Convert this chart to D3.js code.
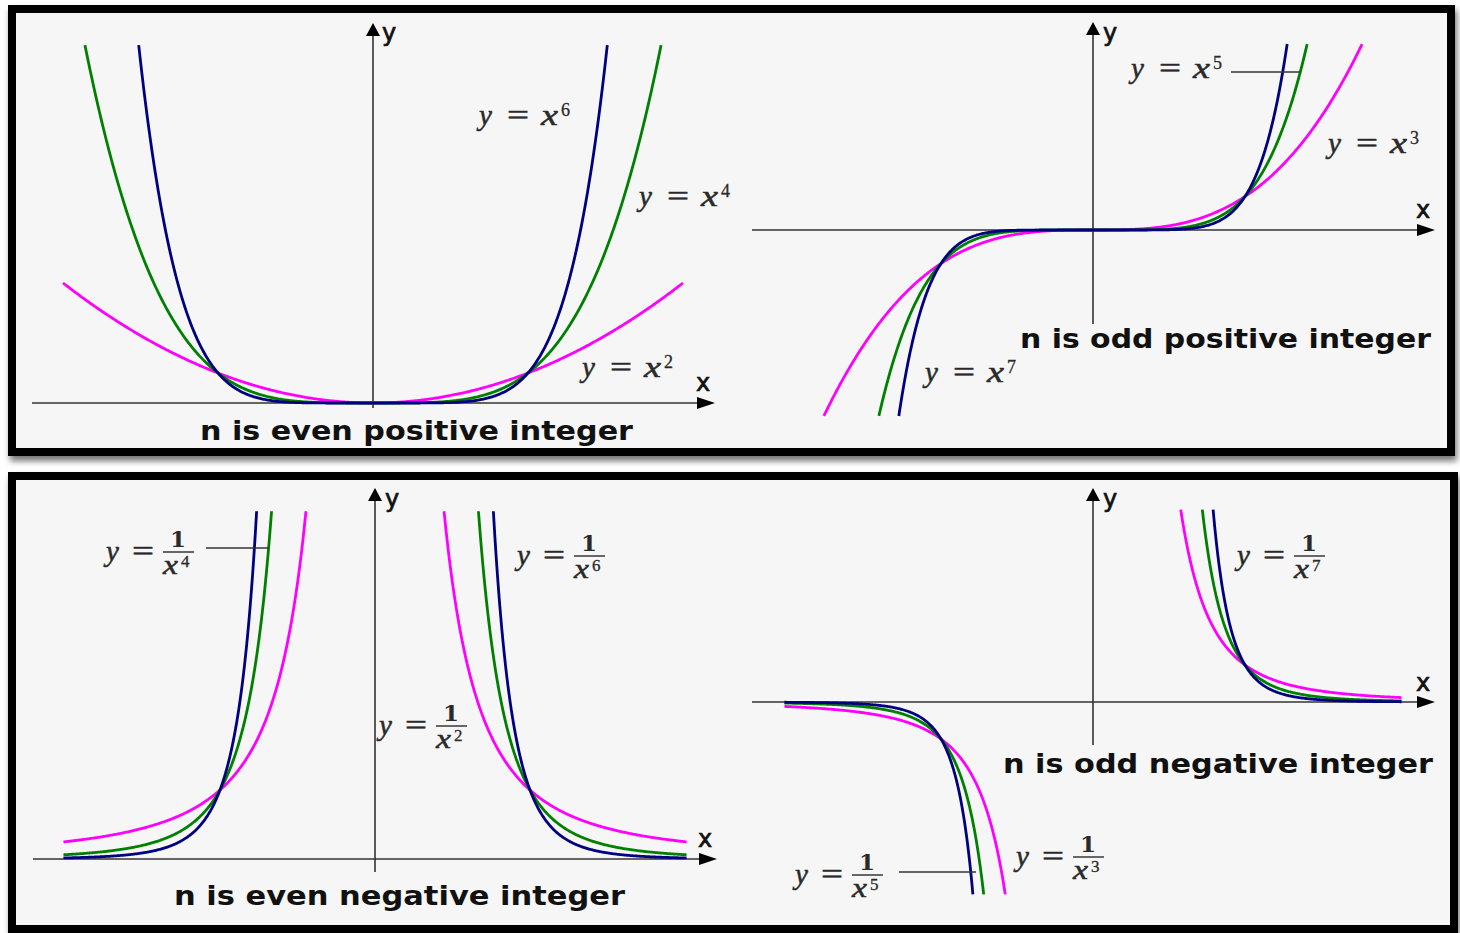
<!DOCTYPE html>
<html>
<head>
<meta charset="utf-8">
<script src="https://cdn.jsdelivr.net/npm/d3@7"></script>
<style>
  body { margin: 0; background: #fff; }
</style>
</head>
<body>
<script>
// exponents drawn in each panel (magenta, green, navy)
var evenPositive = [2, 4, 6];
var oddPositive = [3, 5, 7];
var evenNegative = [-2, -4, -6];
var oddNegative = [-3, -5, -7];
var curveColors = ["#ff00ff", "#008000", "#000080"];
var titles = ["n is even positive integer", "n is odd positive integer",
              "n is even negative integer", "n is odd negative integer"];
// visible window of the curves, in function units
var xLimits = [2, 3, 2.01, 2.03];
var yLimits = [[0, 11.93], [-5.55, 5.55], [0, 5.04], [-5.2, 5.2]];

// layout: origin, units (px), axis extents, label spots
var layout = [
  { ox: 373, oy: 403, ux: 155, uy: 30, xa: [32, 715], ya: [408, 23], ylab: [382, 41], xlab: [696, 391],
    title: [200, 440, 433],
    labels: [[480, 125, 6], [640, 206, 4], [583, 377, 2]], leaders: [] },
  { ox: 1093, oy: 230, ux: 152, uy: 33.5, xa: [752, 1435], ya: [324, 22], ylab: [1103, 41], xlab: [1416, 218],
    title: [1020, 348, 411],
    labels: [[1132, 78, 5], [1329, 153, 3], [926, 382, 7]], leaders: [[1231, 1300, 72]] },
  { ox: 375, oy: 859, ux: 155, uy: 69, xa: [33, 717], ya: [872, 488], ylab: [385, 507], xlab: [698, 847],
    title: [174, 905, 451],
    labels: [[107, 552, -4], [518, 556, -6], [380, 726, -2]], leaders: [[206, 269, 548]] },
  { ox: 1093, oy: 702, ux: 152, uy: 37, xa: [752, 1435], ya: [745, 488], ylab: [1103, 507], xlab: [1416, 691],
    title: [1003, 773, 430],
    labels: [[1238, 556, -7], [1017, 857, -3], [796, 875, -5]], leaders: [[899, 976, 872]] }
];
var panelExps = [evenPositive, oddPositive, evenNegative, oddNegative];

var svg = d3.select("body").append("svg")
    .attr("width", 1460)
    .attr("height", 933);

var defs = svg.append("defs");
defs.append("filter").attr("id", "shadow")
    .attr("x", "-5%").attr("y", "-5%").attr("width", "110%").attr("height", "115%")
  .append("feDropShadow")
    .attr("dx", 2).attr("dy", 5).attr("stdDeviation", 3)
    .attr("flood-color", "#000").attr("flood-opacity", 0.55);

// the two framed boxes
svg.append("rect")
    .attr("x", 12).attr("y", 9).attr("width", 1439).attr("height", 443)
    .attr("fill", "#f6f6f6").attr("stroke", "#000").attr("stroke-width", 8)
    .attr("filter", "url(#shadow)");
svg.append("rect")
    .attr("x", 12).attr("y", 476).attr("width", 1442).attr("height", 453)
    .attr("fill", "#f6f6f6").attr("stroke", "#000").attr("stroke-width", 8)
    .attr("filter", "url(#shadow)");

// one side of a curve y = x^n, clipped to the window
function branch(n, s, xMax, lo, hi) {
    var ySign = (n % 2 === 0) ? 1 : s;
    var lim = ySign > 0 ? hi : -lo;
    var t = Math.pow(lim, 1 / n);
    var a = n > 0 ? 0 : t;
    var b = n > 0 ? Math.min(xMax, t) : xMax;
    return d3.range(0, 241).map(function(i) {
        var xv = s * (a + (b - a) * i / 240);
        return [xv, Math.pow(xv, n)];
    });
}

var mathFont = "'Liberation Serif', 'DejaVu Serif', serif";
var ink = "#2a2a2a";

function letter(t, x, y, txt, size, italic) {
    return t.append("text").attr("x", x).attr("y", y)
        .attr("font-size", size).attr("font-style", italic ? "italic" : "normal")
        .attr("stroke", ink).attr("stroke-width", 0.5)
        .text(txt);
}

function powerLabel(g, x0, y0, n) {
    var t = g.append("g").attr("transform", "translate(" + x0 + "," + y0 + ")")
        .attr("fill", ink).attr("font-family", mathFont);
    letter(t, -1, 0, "y", 29, true);
    letter(t, 27, 0, "=", 30, false).attr("textLength", 22).attr("lengthAdjust", "spacingAndGlyphs");
    letter(t, 61, 0, "x", 29, true).attr("textLength", 17).attr("lengthAdjust", "spacingAndGlyphs");
    letter(t, 81, -9, n, 18, false).attr("stroke-width", 0.3);
}

function fractionLabel(g, x0, by, n) {
    var t = g.append("g").attr("transform", "translate(" + x0 + "," + by + ")")
        .attr("fill", ink).attr("font-family", mathFont);
    letter(t, -1, 9, "y", 29, true);
    letter(t, 25, 9, "=", 30, false).attr("textLength", 22).attr("lengthAdjust", "spacingAndGlyphs");
    t.append("line").attr("x1", 56).attr("x2", 87).attr("y1", 0).attr("y2", 0)
        .attr("stroke", ink).attr("stroke-width", 1.4);
    t.append("text").attr("x", 71).attr("y", -5).attr("text-anchor", "middle")
        .attr("font-size", 23).attr("font-weight", "bold").attr("font-family", "'DejaVu Serif', serif").text("1");
    letter(t, 56, 22, "x", 27, true).attr("textLength", 15).attr("lengthAdjust", "spacingAndGlyphs");
    letter(t, 74, 15, Math.abs(n), 17, false).attr("stroke-width", 0.3);
}

layout.forEach(function(L, p) {
    var g = svg.append("g");
    var exps = panelExps[p];
    var x = d3.scaleLinear().domain([-1, 1]).range([L.ox - L.ux, L.ox + L.ux]);
    var y = d3.scaleLinear().domain([-1, 1]).range([L.oy + L.uy, L.oy - L.uy]);

    // axes
    g.append("line").attr("x1", L.xa[0]).attr("x2", L.xa[1] - 12).attr("y1", L.oy).attr("y2", L.oy)
        .attr("stroke", "#333").attr("stroke-width", 1.6);
    g.append("path")
        .attr("d", "M" + L.xa[1] + "," + L.oy + "L" + (L.xa[1] - 18) + "," + (L.oy - 6) + "L" + (L.xa[1] - 18) + "," + (L.oy + 6) + "Z")
        .attr("fill", "#000");
    g.append("line").attr("x1", L.ox).attr("x2", L.ox).attr("y1", L.ya[0]).attr("y2", L.ya[1] + 10)
        .attr("stroke", "#333").attr("stroke-width", 1.6);
    g.append("path")
        .attr("d", "M" + L.ox + "," + L.ya[1] + "L" + (L.ox - 7) + "," + (L.ya[1] + 13) + "L" + (L.ox + 7) + "," + (L.ya[1] + 13) + "Z")
        .attr("fill", "#000");
    g.append("text").attr("x", L.ylab[0]).attr("y", L.ylab[1])
        .attr("font-family", "'DejaVu Sans', Verdana, sans-serif").attr("font-size", 24)
        .attr("fill", "#111").attr("stroke", "#111").attr("stroke-width", 0.7).text("y");
    g.append("text").attr("x", L.xlab[0]).attr("y", L.xlab[1])
        .attr("font-family", "'DejaVu Sans', Verdana, sans-serif").attr("font-size", 24)
        .attr("fill", "#111").attr("stroke", "#111").attr("stroke-width", 0.7).text("x");

    // curves
    var line = d3.line().x(function(d) { return x(d[0]); }).y(function(d) { return y(d[1]); });
    var lo = yLimits[p][0], hi = yLimits[p][1];
    exps.forEach(function(n, i) {
        var left = branch(n, -1, xLimits[p], lo, hi);
        var right = branch(n, 1, xLimits[p], lo, hi);
        var parts = n > 0 ? [left.slice().reverse().concat(right)] : [left, right];
        parts.forEach(function(pts) {
            g.append("path").attr("d", line(pts))
                .attr("fill", "none").attr("stroke", curveColors[i])
                .attr("stroke-width", 2.8).attr("stroke-linejoin", "round");
        });
    });

    // leader lines and labels
    L.leaders.forEach(function(d) {
        g.append("line").attr("x1", d[0]).attr("x2", d[1]).attr("y1", d[2]).attr("y2", d[2])
            .attr("stroke", "#333").attr("stroke-width", 1.4);
    });
    L.labels.forEach(function(d) {
        if (d[2] > 0) powerLabel(g, d[0], d[1], d[2]);
        else fractionLabel(g, d[0], d[1], d[2]);
    });

    g.append("text").attr("x", L.title[0]).attr("y", L.title[1])
        .attr("textLength", L.title[2]).attr("lengthAdjust", "spacingAndGlyphs")
        .attr("font-family", "'DejaVu Sans', Verdana, sans-serif").attr("font-weight", "bold")
        .attr("font-size", 26).attr("fill", "#111").text(titles[p]);
});
</script>
</body>
</html>
